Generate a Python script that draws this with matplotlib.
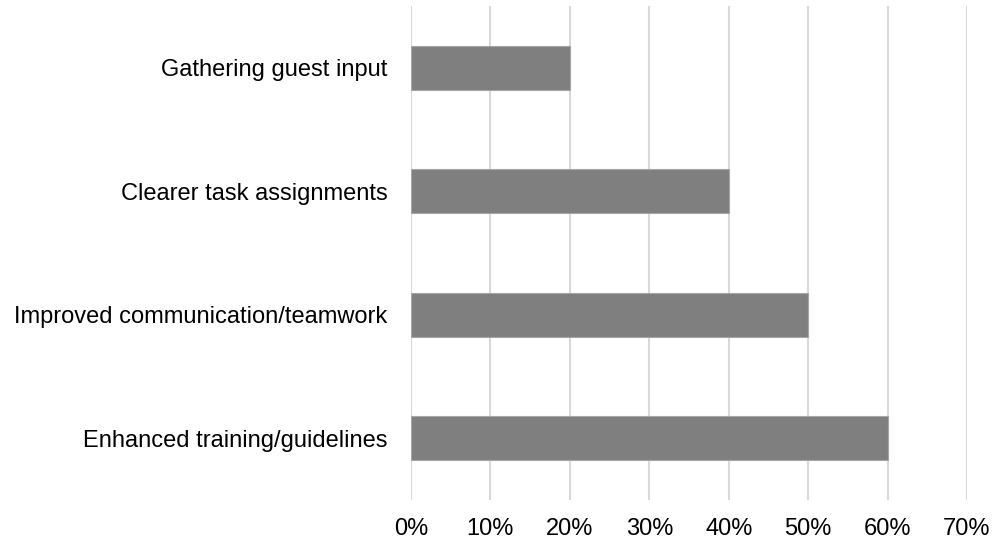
import matplotlib
matplotlib.use("Agg")
import matplotlib.pyplot as plt
from matplotlib.ticker import FuncFormatter

plt.rcParams['font.family'] = ['Liberation Sans', 'DejaVu Sans']

categories = ["Enhanced training/guidelines",
              "Improved communication/teamwork",
              "Clearer task assignments",
              "Gathering guest input"]
values = [0.60, 0.50, 0.40, 0.20]
x_ticks = [0.0, 0.1, 0.2, 0.3, 0.4, 0.5, 0.6, 0.7]

W, H = 993, 543
fig = plt.figure(figsize=(W / 100, H / 100), dpi=100)
ax = fig.add_axes([411 / W, 43 / H, (967 - 411) / W, (500 - 6) / H])

ypos = list(range(len(categories)))
ax.barh(ypos, values, height=0.356, color="#7F7F7F",
        edgecolor="#A6A6A6", linewidth=0.8, zorder=3)

ax.set_xlim(0, 0.7)
ax.set_ylim(-0.5, len(categories) - 0.5)
ax.set_xticks(x_ticks)
ax.xaxis.set_major_formatter(FuncFormatter(lambda v, _: f"{v * 100:.0f}%"))
ax.set_yticks(ypos)
ax.set_yticklabels(categories)

ax.grid(axis="x", color="#D9D9D9", linewidth=1.5, zorder=0)
for s in ax.spines.values():
    s.set_visible(False)
ax.tick_params(axis="both", length=0, labelsize=17, labelcolor="#000000")
ax.tick_params(axis="x", pad=13)
ax.tick_params(axis="y", pad=17)

fig.savefig("out.png", dpi=100)
